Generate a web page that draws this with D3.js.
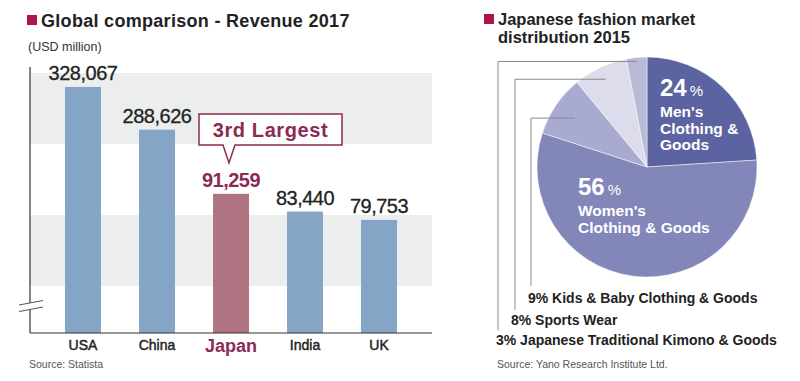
<!DOCTYPE html>
<html>
<head>
<meta charset="utf-8">
<script src="https://cdn.jsdelivr.net/npm/d3@7"></script>
<style>
  body { margin: 0; background: #fff; }
  svg { font-family: "Liberation Sans", Arial, Helvetica, sans-serif; }
</style>
</head>
<body>
<div id="chart"></div>
<script>
// Bar chart data
const countries = ["USA", "China", "Japan", "India", "UK"];
const revenue = [328067, 288626, 91259, 83440, 79753];
const highlight = "Japan";

// Pie chart data
const segments = ["Men's Clothing & Goods", "Women's Clothing & Goods", "Kids & Baby Clothing & Goods", "Sports Wear", "Japanese Traditional Kimono & Goods"];
const shares = [24, 56, 9, 8, 3];

const width = 800, height = 381;
const crimson = "#8c2a56";

const svg = d3.select("#chart")
  .append("svg")
  .attr("width", width)
  .attr("height", height);

// ---------- Left: bar chart ----------
const plot = { left: 30, right: 432, top: 73, bottom: 333 };

// broken axis -> piecewise scale
const y = d3.scaleLinear()
  .domain([0, 70000, 100000, 280000, 340000])
  .range([plot.bottom, 242, 174, 139, 74]);

const x = d3.scaleBand()
  .domain(countries)
  .range([46, 416])
  .paddingInner(0.514)
  .paddingOuter(0.257);

// background bands
const bandH = 71;
svg.append("g").selectAll("rect")
  .data(d3.range(plot.top, plot.bottom, bandH * 2))
  .join("rect")
  .attr("x", plot.left)
  .attr("y", d => d)
  .attr("width", plot.right - plot.left)
  .attr("height", bandH)
  .attr("fill", "#eceeee");

// title
svg.append("rect").attr("x", 27).attr("y", 15).attr("width", 10).attr("height", 10).attr("fill", "#b0144f");
svg.append("text").attr("x", 41).attr("y", 27)
  .attr("font-size", 18).attr("font-weight", "bold").attr("fill", "#222")
  .attr("letter-spacing", 0.3)
  .text("Global comparison - Revenue 2017");
svg.append("text").attr("x", 28).attr("y", 51)
  .attr("font-size", 12.5).attr("fill", "#333")
  .text("(USD million)");

// bars
svg.append("g").selectAll("rect")
  .data(countries)
  .join("rect")
  .attr("x", d => x(d))
  .attr("y", (d, i) => y(revenue[i]))
  .attr("width", x.bandwidth())
  .attr("height", (d, i) => plot.bottom - y(revenue[i]))
  .attr("fill", d => d === highlight ? "#b07382" : "#85a5c7");

// value labels
svg.append("g").selectAll("text")
  .data(countries)
  .join("text")
  .attr("x", d => x(d) + x.bandwidth() / 2)
  .attr("y", (d, i) => y(revenue[i]) - 7)
  .attr("text-anchor", "middle")
  .attr("font-size", 20)
  .attr("letter-spacing", -0.5)
  .attr("font-weight", d => d === highlight ? "bold" : "normal")
  .attr("fill", d => d === highlight ? crimson : "#222")
  .attr("stroke", d => d === highlight ? "none" : "#222")
  .attr("stroke-width", 0.3)
  .text((d, i) => d3.format(",")(revenue[i]));

// axes lines
svg.append("line").attr("x1", plot.left).attr("x2", plot.left).attr("y1", 67).attr("y2", plot.bottom)
  .attr("stroke", "#333").attr("stroke-width", 1.2);
svg.append("line").attr("x1", plot.left).attr("x2", plot.right).attr("y1", plot.bottom).attr("y2", plot.bottom)
  .attr("stroke", "#333").attr("stroke-width", 1.2);

// break mark
svg.append("path")
  .attr("d", "M19,305 L43,300.5 L43,307 L19,311.5 Z")
  .attr("fill", "#fff");
svg.append("path")
  .attr("d", "M19,305 L43,300.5 M19,311.5 L43,307")
  .attr("stroke", "#555").attr("stroke-width", 1);

// category labels
svg.append("g").selectAll("text")
  .data(countries)
  .join("text")
  .attr("x", d => x(d) + x.bandwidth() / 2)
  .attr("y", d => d === highlight ? 352 : 350)
  .attr("text-anchor", "middle")
  .attr("font-size", d => d === highlight ? 18 : 14)
  .attr("font-weight", d => d === highlight ? "bold" : "normal")
  .attr("fill", d => d === highlight ? crimson : "#222")
  .attr("stroke", d => d === highlight ? "none" : "#222")
  .attr("stroke-width", 0.45)
  .text(d => d);

svg.append("text").attr("x", 29).attr("y", 368)
  .attr("font-size", 10.5).attr("fill", "#555")
  .text("Source: Statista");

// callout
const hx = x(highlight) + x.bandwidth() / 2 - 2;
const cb = { x0: 199, x1: 342, y0: 114, y1: 145 };
svg.append("path")
  .attr("d", `M${cb.x0},${cb.y0} L${cb.x1},${cb.y0} L${cb.x1},${cb.y1} L${hx + 6},${cb.y1} L${hx},163 L${hx - 6},${cb.y1} L${cb.x0},${cb.y1} Z`)
  .attr("fill", "#fff")
  .attr("stroke", crimson)
  .attr("stroke-width", 1.5);
svg.append("text")
  .attr("x", (cb.x0 + cb.x1) / 2)
  .attr("y", 137)
  .attr("text-anchor", "middle")
  .attr("font-size", 20)
  .attr("font-weight", "bold")
  .attr("letter-spacing", 0.6)
  .attr("fill", crimson)
  .text("3rd Largest");

// ---------- Right: pie chart ----------
const cx = 647, cy = 167, r = 110;
const pieColors = ["#5b63a0", "#8286b9", "#a8aacf", "#dcdcec", "#b8bad6"];

svg.append("rect").attr("x", 484).attr("y", 14).attr("width", 10).attr("height", 10).attr("fill", "#b0144f");
svg.append("text").attr("x", 498).attr("y", 25)
  .attr("font-size", 16.5).attr("font-weight", "bold").attr("fill", "#222")
  .text("Japanese fashion market");
svg.append("text").attr("x", 498).attr("y", 43)
  .attr("font-size", 16.5).attr("font-weight", "bold").attr("fill", "#222")
  .text("distribution 2015");

const pie = d3.pie().sort(null).value(d => d);
const arcs = pie(shares);
const arc = d3.arc().innerRadius(0).outerRadius(r);

const pg = svg.append("g").attr("transform", `translate(${cx},${cy})`);
pg.selectAll("path")
  .data(arcs)
  .join("path")
  .attr("d", arc)
  .attr("fill", (d, i) => pieColors[i])
  .attr("stroke", "#fff")
  .attr("stroke-width", 0.5);

// leader lines for the small slices
const leaders = [
  { idx: 2, rr: 87, lx: 531, ly: 286, tx: 528, ty: 303 },
  { idx: 3, rr: 97, lx: 515, ly: 310, tx: 511, ty: 325 },
  { idx: 4, rr: 106, lx: 498, ly: 330, tx: 496, ty: 345 }
];
leaders.forEach(l => {
  const a = arcs[l.idx];
  const mid = (a.startAngle + a.endAngle) / 2;
  const sx = cx + l.rr * Math.sin(mid);
  const sy = cy - l.rr * Math.cos(mid);
  svg.append("path")
    .attr("d", `M${sx},${sy} L${l.lx},${sy} L${l.lx},${l.ly}`)
    .attr("fill", "none")
    .attr("stroke", "#8a8a8a")
    .attr("stroke-width", 1);
  svg.append("text")
    .attr("x", l.tx).attr("y", l.ty)
    .attr("font-size", 14).attr("font-weight", "bold").attr("fill", "#222")
    .text(`${shares[l.idx]}% ${segments[l.idx]}`);
});

// inside labels
const inside = [
  { idx: 0, x: cx + 13, y: 96, lines: ["Men's", "Clothing &", "Goods"] },
  { idx: 1, x: cx - 69, y: 195, lines: ["Women's", "Clothing & Goods"] }
];
inside.forEach(l => {
  const t = svg.append("text").attr("x", l.x).attr("y", l.y).attr("fill", "#fff").attr("font-weight", "bold");
  t.append("tspan").attr("font-size", 24).text(shares[l.idx]);
  t.append("tspan").attr("font-size", 15).attr("font-weight", "normal").attr("dx", 3).text("%");
  l.lines.forEach((s, k) => {
    svg.append("text")
      .attr("x", l.x)
      .attr("y", l.y + 21 + k * 16.5)
      .attr("font-size", 15.5)
      .attr("font-weight", "bold")
      .attr("fill", "#fff")
      .text(s);
  });
});

svg.append("text").attr("x", 497).attr("y", 368)
  .attr("font-size", 10.5).attr("fill", "#555")
  .text("Source: Yano Research Institute Ltd.");
</script>
</body>
</html>
